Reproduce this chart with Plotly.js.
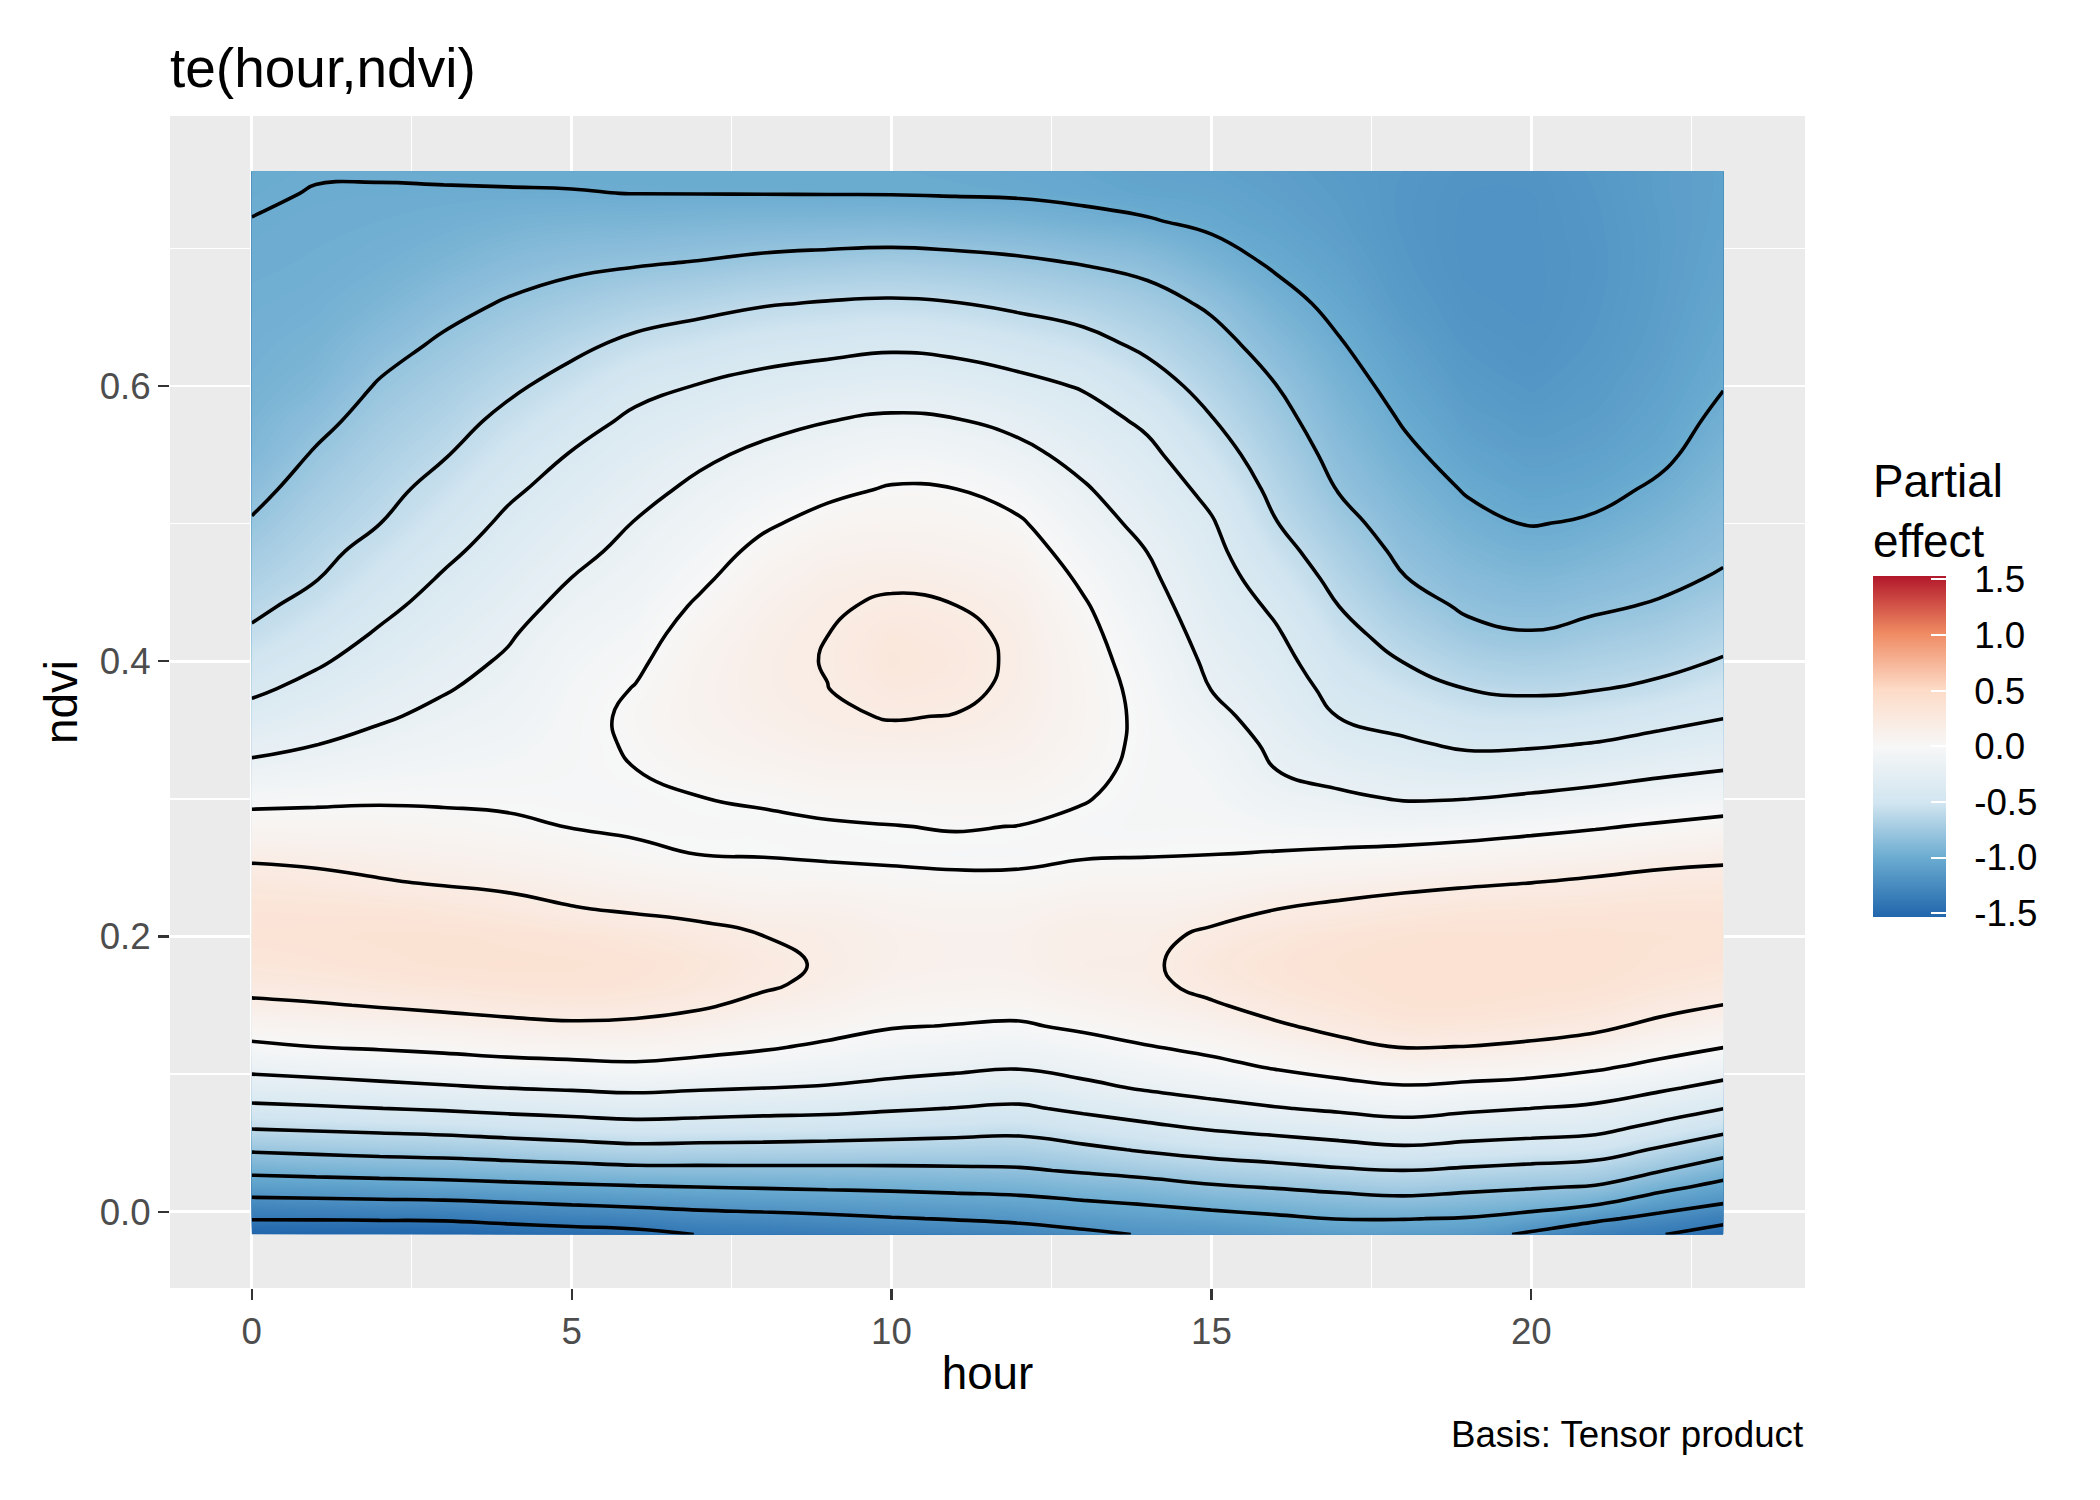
<!DOCTYPE html>
<html>
<head>
<meta charset="utf-8">
<script src="https://cdn.plot.ly/plotly-3.0.1.min.js"></script>
<style>html,body{margin:0;padding:0;background:#fff;}#chart{width:2100px;height:1500px;}</style>
</head>
<body>
<div id="chart"></div>
<script>
// ---- data ----
const hourGrid = [0, 1, 2, 3, 4, 5, 6, 7, 8, 9, 10, 11, 12, 13, 14, 15, 16, 17, 18, 19, 20, 21, 22, 23];
const ndviGrid = [-0.0165, -0.005, 0.006, 0.018, 0.03, 0.045, 0.06, 0.075, 0.09, 0.105, 0.12, 0.135, 0.15, 0.165, 0.18, 0.2, 0.22, 0.24, 0.26, 0.28, 0.3, 0.32, 0.34, 0.36, 0.38, 0.4, 0.42, 0.44, 0.46, 0.48, 0.5, 0.525, 0.55, 0.575, 0.6, 0.63, 0.66, 0.69, 0.72, 0.74, 0.756];

// partial effect along ndvi (bottom -> top), one array per hour column
const effectH00 = [-1.54, -1.39, -1.26, -1.10, -0.96, -0.78, -0.601, -0.44, -0.29, -0.155, -0.026, 0.075, 0.169, 0.255, 0.314, 0.348, 0.333, 0.269, 0.165, 0.065, -0.039, -0.15, -0.251, -0.344, -0.43, -0.504, -0.578, -0.635, -0.686, -0.737, -0.787, -0.844, -0.90, -0.925, -0.95, -0.965, -0.979, -0.991, -0.999, -1.006, -1.01];
const effectH01 = [-1.535, -1.389, -1.249, -1.093, -0.941, -0.76, -0.584, -0.422, -0.27, -0.13, 0.001, 0.094, 0.187, 0.273, 0.33, 0.357, 0.33, 0.248, 0.148, 0.061, -0.027, -0.116, -0.204, -0.278, -0.352, -0.422, -0.484, -0.547, -0.606, -0.646, -0.686, -0.736, -0.786, -0.842, -0.9, -0.937, -0.963, -0.982, -0.991, -0.998, -1.003];
const effectH02 = [-1.53, -1.384, -1.241, -1.082, -0.925, -0.74, -0.568, -0.402, -0.246, -0.106, 0.019, 0.112, 0.21, 0.30, 0.354, 0.371, 0.323, 0.21, 0.132, 0.057, -0.017, -0.086, -0.155, -0.219, -0.274, -0.329, -0.384, -0.438, -0.492, -0.546, -0.601, -0.647, -0.693, -0.74, -0.787, -0.856, -0.919, -0.96, -0.985, -0.996, -1.004];
const effectH03 = [-1.53, -1.379, -1.234, -1.069, -0.911, -0.727, -0.551, -0.383, -0.221, -0.081, 0.0375, 0.131, 0.234, 0.323, 0.371, 0.371, 0.297, 0.182, 0.112, 0.042, -0.019, -0.067, -0.116, -0.164, -0.211, -0.254, -0.298, -0.341, -0.385, -0.433, -0.485, -0.549, -0.610, -0.663, -0.715, -0.777, -0.849, -0.92, -0.972, -0.995, -1.008];
const effectH04 = [-1.50, -1.351, -1.211, -1.049, -0.891, -0.702, -0.525, -0.357, -0.198, -0.056, 0.058, 0.155, 0.26, 0.341, 0.377, 0.357, 0.26, 0.159, 0.091, 0.022, -0.022, -0.054, -0.086, -0.118, -0.15, -0.182, -0.217, -0.256, -0.294, -0.333, -0.371, -0.427, -0.495, -0.562, -0.629, -0.708, -0.787, -0.871, -0.948, -0.995, -1.012];
const effectH05 = [-1.474, -1.328, -1.187, -1.03, -0.872, -0.678, -0.501, -0.337, -0.181, -0.042, 0.071, 0.173, 0.279, 0.35, 0.372, 0.332, 0.209, 0.132, 0.059, -0.004, -0.025, -0.035, -0.043, -0.05, -0.062, -0.083, -0.11, -0.155, -0.198, -0.241, -0.284, -0.338, -0.391, -0.465, -0.542, -0.637, -0.737, -0.835, -0.932, -0.997, -1.012];
const effectH06 = [-1.45, -1.305, -1.166, -1.013, -0.85, -0.652, -0.477, -0.315, -0.164, -0.027, 0.073, 0.164, 0.264, 0.332, 0.35, 0.297, 0.18, 0.10, 0.02, -0.016, -0.028, -0.002, 0.017, 0.028, 0.006, -0.024, -0.057, -0.091, -0.125, -0.159, -0.193, -0.25, -0.31, -0.369, -0.446, -0.562, -0.687, -0.815, -0.929, -1.001, -1.012];
const effectH07 = [-1.395, -1.27, -1.146, -0.999, -0.847, -0.658, -0.487, -0.33, -0.183, -0.052, 0.05, 0.133, 0.22, 0.287, 0.305, 0.252, 0.156, 0.076, -0.002, -0.025, -0.003, 0.043, 0.077, 0.096, 0.1, 0.088, 0.062, 0.021, -0.026, -0.069, -0.112, -0.166, -0.23, -0.311, -0.393, -0.517, -0.649, -0.795, -0.919, -1.002, -1.012];
const effectH08 = [-1.38, -1.255, -1.129, -0.988, -0.844, -0.661, -0.497, -0.346, -0.199, -0.085, 0.019, 0.088, 0.158, 0.222, 0.245, 0.201, 0.126, 0.052, -0.007, -0.023, 0.013, 0.071, 0.115, 0.144, 0.158, 0.158, 0.146, 0.122, 0.086, 0.038, -0.02, -0.093, -0.165, -0.25, -0.346, -0.473, -0.611, -0.768, -0.912, -1.003, -1.012];
const effectH09 = [-1.363, -1.236, -1.113, -0.977, -0.842, -0.669, -0.507, -0.357, -0.214, -0.117, -0.025, 0.059, 0.121, 0.161, 0.179, 0.17, 0.128, 0.051, -0.02, -0.014, 0.042, 0.10, 0.146, 0.179, 0.198, 0.207, 0.199, 0.18, 0.149, 0.106, 0.05, -0.034, -0.119, -0.204, -0.313, -0.448, -0.59, -0.751, -0.91, -1.004, -1.013];
const effectH10 = [-1.338, -1.211, -1.095, -0.968, -0.838, -0.676, -0.524, -0.382, -0.245, -0.147, -0.068, 0.01, 0.071, 0.113, 0.136, 0.136, 0.101, 0.032, -0.024, -0.003, 0.047, 0.1, 0.153, 0.208, 0.265, 0.29, 0.275, 0.225, 0.171, 0.122, 0.073, 0.012, -0.078, -0.176, -0.286, -0.426, -0.579, -0.74, -0.908, -1.005, -1.013];
const effectH11 = [-1.316, -1.19, -1.077, -0.954, -0.83, -0.683, -0.541, -0.405, -0.277, -0.168, -0.087, -0.005, 0.056, 0.098, 0.121, 0.121, 0.088, 0.022, -0.03, 0.007, 0.054, 0.101, 0.148, 0.195, 0.24, 0.262, 0.245, 0.202, 0.153, 0.106, 0.059, 0.002, -0.096, -0.192, -0.305, -0.445, -0.595, -0.753, -0.92, -1.01, -1.02];
const effectH12 = [-1.287, -1.165, -1.058, -0.94, -0.82, -0.687, -0.557, -0.426, -0.304, -0.189, -0.103, -0.017, 0.053, 0.1, 0.125, 0.126, 0.092, 0.024, -0.029, -0.002, 0.05, 0.093, 0.127, 0.151, 0.165, 0.17, 0.164, 0.146, 0.116, 0.073, 0.019, -0.067, -0.154, -0.25, -0.354, -0.49, -0.633, -0.776, -0.935, -1.015, -1.03];
const effectH13 = [-1.237, -1.123, -1.023, -0.903, -0.781, -0.638, -0.5, -0.367, -0.242, -0.143, -0.057, 0.027, 0.094, 0.14, 0.165, 0.165, 0.127, 0.052, -0.013, -0.028, 0.007, 0.038, 0.059, 0.069, 0.069, 0.06, 0.043, 0.016, -0.024, -0.073, -0.122, -0.183, -0.255, -0.332, -0.413, -0.543, -0.676, -0.81, -0.964, -1.03, -1.045];
const effectH14 = [-1.187, -1.095, -0.99, -0.874, -0.737, -0.582, -0.445, -0.309, -0.182, -0.094, -0.006, 0.072, 0.13, 0.16, 0.172, 0.16, 0.125, 0.062, -0.008, -0.04, -0.042, -0.038, -0.032, -0.033, -0.045, -0.07, -0.1, -0.134, -0.168, -0.202, -0.248, -0.305, -0.361, -0.43, -0.524, -0.634, -0.736, -0.851, -0.991, -1.05, -1.07];
const effectH15 = [-1.18, -1.064, -0.95, -0.821, -0.691, -0.536, -0.391, -0.251, -0.14, -0.044, 0.038, 0.11, 0.181, 0.252, 0.278, 0.231, 0.147, 0.072, -0.002, -0.035, -0.058, -0.072, -0.1, -0.155, -0.203, -0.233, -0.264, -0.294, -0.324, -0.355, -0.385, -0.444, -0.518, -0.591, -0.659, -0.739, -0.826, -0.937, -1.03, -1.06, -1.08];
const effectH16 = [-1.145, -1.03, -0.916, -0.789, -0.658, -0.504, -0.355, -0.21, -0.096, 0.011, 0.094, 0.178, 0.26, 0.313, 0.33, 0.296, 0.198, 0.101, 0.007, -0.062, -0.129, -0.197, -0.235, -0.272, -0.308, -0.345, -0.382, -0.427, -0.482, -0.537, -0.592, -0.644, -0.695, -0.745, -0.796, -0.871, -0.947, -1.02, -1.07, -1.09, -1.1];
const effectH17 = [-1.11, -0.995, -0.882, -0.756, -0.622, -0.467, -0.317, -0.175, -0.05, 0.058, 0.155, 0.247, 0.314, 0.356, 0.369, 0.335, 0.235, 0.123, 0.021, -0.076, -0.171, -0.254, -0.331, -0.405, -0.454, -0.502, -0.551, -0.601, -0.65, -0.7, -0.75, -0.809, -0.852, -0.895, -0.938, -0.99, -1.04, -1.08, -1.11, -1.12, -1.13];
const effectH18 = [-1.11, -0.995, -0.862, -0.728, -0.601, -0.433, -0.28, -0.141, -0.016, 0.097, 0.208, 0.301, 0.366, 0.385, 0.388, 0.366, 0.274, 0.146, 0.038, -0.084, -0.209, -0.294, -0.379, -0.456, -0.53, -0.603, -0.667, -0.73, -0.794, -0.834, -0.872, -0.92, -0.968, -1.01, -1.05, -1.09, -1.13, -1.15, -1.16, -1.16, -1.155];
const effectH19 = [-1.13, -1.01, -0.889, -0.757, -0.627, -0.461, -0.312, -0.173, -0.036, 0.085, 0.198, 0.30, 0.369, 0.387, 0.39, 0.38, 0.304, 0.171, 0.057, -0.067, -0.201, -0.318, -0.426, -0.513, -0.601, -0.68, -0.76, -0.823, -0.868, -0.914, -0.959, -1.012, -1.06, -1.1, -1.13, -1.16, -1.18, -1.19, -1.19, -1.185, -1.18];
const effectH20 = [-1.23, -1.067, -0.922, -0.784, -0.654, -0.486, -0.333, -0.201, -0.058, 0.063, 0.171, 0.274, 0.348, 0.382, 0.388, 0.38, 0.312, 0.194, 0.08, -0.04, -0.173, -0.3, -0.421, -0.526, -0.625, -0.709, -0.793, -0.849, -0.902, -0.955, -1.007, -1.06, -1.1, -1.13, -1.16, -1.18, -1.19, -1.19, -1.188, -1.185, -1.18];
const effectH21 = [-1.333, -1.166, -0.981, -0.814, -0.682, -0.515, -0.358, -0.232, -0.104, 0.021, 0.129, 0.234, 0.316, 0.369, 0.384, 0.38, 0.324, 0.22, 0.103, -0.013, -0.142, -0.269, -0.394, -0.503, -0.607, -0.681, -0.756, -0.821, -0.875, -0.928, -0.981, -1.04, -1.08, -1.11, -1.13, -1.15, -1.16, -1.165, -1.16, -1.155, -1.15];
const effectH22 = [-1.39, -1.253, -1.109, -0.945, -0.789, -0.62, -0.455, -0.309, -0.174, -0.043, 0.065, 0.161, 0.252, 0.317, 0.356, 0.368, 0.333, 0.252, 0.131, 0.017, -0.106, -0.229, -0.347, -0.459, -0.568, -0.648, -0.717, -0.786, -0.835, -0.879, -0.923, -0.978, -1.03, -1.06, -1.08, -1.1, -1.11, -1.115, -1.115, -1.11, -1.11];
const effectH23 = [-1.49, -1.342, -1.199, -1.059, -0.912, -0.729, -0.557, -0.398, -0.25, -0.117, 0.006, 0.103, 0.198, 0.279, 0.331, 0.356, 0.333, 0.264, 0.156, 0.044, -0.074, -0.196, -0.304, -0.409, -0.499, -0.588, -0.656, -0.72, -0.784, -0.823, -0.854, -0.892, -0.931, -0.969, -1.005, -1.03, -1.05, -1.065, -1.075, -1.08, -1.08];

const contourLevels = {start: -1.4, end: 0.2, size: 0.2};
const xTickVals = [0, 5, 10, 15, 20];
const yTickVals = [0, 0.2, 0.4, 0.6];
const legendTickVals = [-1.5, -1, -0.5, 0, 0.5, 1, 1.5];
const legendTickText = ['-1.5', '-1.0', '-0.5', '0.0', '0.5', '1.0', '1.5'];
const legendLimits = [-1.535, 1.535];

// ---- build the table the library needs ----
const effectColumns = [effectH00, effectH01, effectH02, effectH03, effectH04, effectH05, effectH06, effectH07,
  effectH08, effectH09, effectH10, effectH11, effectH12, effectH13, effectH14, effectH15, effectH16, effectH17,
  effectH18, effectH19, effectH20, effectH21, effectH22, effectH23];
const zMatrix = ndviGrid.map((_, i) => effectColumns.map(col => col[i]));

const rdbu = [
  [0, '#2166AC'], [1/6, '#67A9CF'], [2/6, '#D1E5F0'], [0.5, '#F7F7F7'],
  [4/6, '#FDDBC7'], [5/6, '#EF8A62'], [1, '#B2182B']
];

const FONT = 'Liberation Sans, Arial, Helvetica, sans-serif';
const NBSP = '\u00a0\u00a0';

const fillTrace = {
  type: 'contour', x: hourGrid, y: ndviGrid, z: zMatrix,
  colorscale: rdbu, zmin: legendLimits[0], zmax: legendLimits[1], zauto: false,
  autocontour: false,
  contours: {start: legendLimits[0], end: legendLimits[1], size: 0.01, coloring: 'fill', showlines: false},
  line: {width: 0, smoothing: 1.3}, showscale: false, hoverinfo: 'skip'
};

const lineTrace = {
  type: 'contour', x: hourGrid, y: ndviGrid, z: zMatrix,
  autocontour: false,
  contours: {start: contourLevels.start, end: contourLevels.end, size: contourLevels.size, coloring: 'none', showlines: true},
  line: {color: '#000000', width: 3.6, smoothing: 1.3},
  showscale: false, hoverinfo: 'skip'
};

const scaleTrace = {
  type: 'scatter', mode: 'markers', x: [null, null], y: [null, null], showlegend: false, hoverinfo: 'skip',
  marker: {
    color: legendLimits, cmin: legendLimits[0], cmax: legendLimits[1], colorscale: rdbu, showscale: true,
    colorbar: {
      thickness: 73, thicknessmode: 'pixels', len: 457, lenmode: 'pixels',
      x: 1.0416, xanchor: 'left', xref: 'paper', y: 0.5115, yanchor: 'middle', yref: 'paper',
      xpad: 0, ypad: 0, outlinewidth: 0,
      tickmode: 'array', tickvals: legendTickVals, ticktext: legendTickText.map(t => NBSP + t),
      ticks: 'inside', ticklen: 15, tickcolor: '#ffffff', tickwidth: 2,
      tickfont: {family: FONT, size: 36.7, color: '#000000'},
      title: {text: 'Partial<br>effect', side: 'top', font: {family: FONT, size: 45.8, color: '#000000'}}
    }
  }
};

const layout = {
  width: 2100, height: 1500,
  margin: {l: 170, r: 295, t: 116, b: 212, pad: 0},
  paper_bgcolor: '#ffffff', plot_bgcolor: '#ebebeb',
  font: {family: FONT, size: 36.7, color: '#000000'},
  showlegend: false,
  title: {text: 'te(hour,ndvi)', x: 0, xref: 'paper', xanchor: 'left', y: 0.955, yref: 'container', yanchor: 'middle',
          font: {family: FONT, size: 55, color: '#000000'}},
  xaxis: {
    range: [-1.278, 24.278], tickmode: 'array', tickvals: xTickVals, ticktext: xTickVals.map(String),
    showgrid: true, gridcolor: '#ffffff', gridwidth: 2.8, zeroline: false, showline: false,
    ticks: 'outside', ticklen: 11, tickwidth: 2.2, tickcolor: '#333333',
    tickfont: {family: FONT, size: 36.7, color: '#4d4d4d'},
    minor: {tickmode: 'array', tickvals: [2.5, 7.5, 12.5, 17.5, 22.5], showgrid: true, gridcolor: '#ffffff', gridwidth: 1.4, ticks: ''},
    title: {text: 'hour', font: {family: FONT, size: 45.8, color: '#000000'}, standoff: 5}
  },
  yaxis: {
    range: [-0.0554, 0.7962], tickmode: 'array', tickvals: yTickVals, ticktext: yTickVals.map(v => v.toFixed(1)),
    showgrid: true, gridcolor: '#ffffff', gridwidth: 2.8, zeroline: false, showline: false,
    ticks: 'outside', ticklen: 11, tickwidth: 2.2, tickcolor: '#333333',
    tickfont: {family: FONT, size: 36.7, color: '#4d4d4d'},
    minor: {tickmode: 'array', tickvals: [0.1, 0.3, 0.5, 0.7], showgrid: true, gridcolor: '#ffffff', gridwidth: 1.4, ticks: ''},
    title: {text: 'ndvi', font: {family: FONT, size: 45.8, color: '#000000'}, standoff: 7}
  },
  annotations: [{
    text: 'Basis: Tensor product', xref: 'paper', yref: 'paper', x: 1, y: -0.1254,
    xanchor: 'right', yanchor: 'middle', showarrow: false,
    font: {family: FONT, size: 36.7, color: '#000000'}
  }]
};

Plotly.newPlot('chart', [fillTrace, lineTrace, scaleTrace], layout, {displayModeBar: false, staticPlot: true});
</script>
</body>
</html>
